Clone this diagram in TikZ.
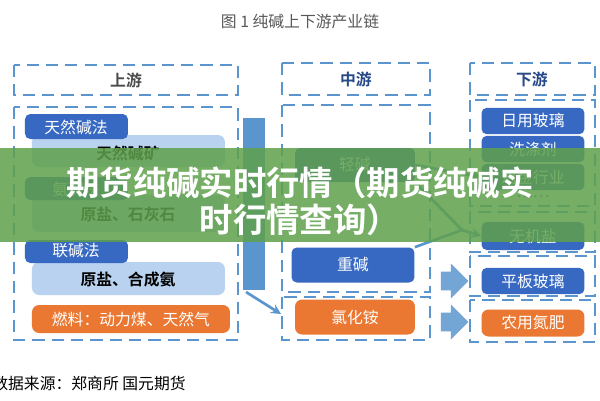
\documentclass[tikz,border=0pt]{standalone}
\usepackage{fontspec}
\newfontfamily\cjk{Noto Sans CJK SC}[BoldFont={Noto Sans CJK SC Bold}]
\usetikzlibrary{shapes.arrows}
\definecolor{dashblue}{RGB}{90,150,205}
\definecolor{tabblue}{RGB}{55,105,195}
\definecolor{paleblue}{RGB}{185,210,240}
\definecolor{fuelorange}{RGB}{235,120,50}
\definecolor{bandgreen}{RGB}{95,160,75}
\tikzset{
  dbox/.style={draw=dashblue, dashed, dash pattern=on 7pt off 4pt, line width=1.2pt},
  tab/.style={fill=tabblue, rounded corners=3pt, text=white, font=\cjk\small},
  pale/.style={fill=paleblue, rounded corners=4pt, font=\cjk\small\bfseries},
  fuel/.style={fill=fuelorange, rounded corners=4pt, text=white, font=\cjk\small},
  thinarr/.style={draw=dashblue, line width=1.5pt, -stealth},
}
\begin{document}
\begin{tikzpicture}[x=0.02cm, y=-0.02cm]
\useasboundingbox (0,0) rectangle (600,400);
\fill[white] (0,0) rectangle (600,400);
\node[font=\cjk\small, text=gray!70!black] (title) at (300,22) {图\ 1\ 纯碱上下游产业链};
% upstream
\draw[dbox] (14,65) rectangle (238,95);
\node[font=\cjk\small\bfseries, text=gray!60!black] (up) at (126,80) {上游};
\draw[dbox] (14,107) rectangle (238,340);
\fill[pale] (32,135) rectangle (225,167);
\node[font=\cjk\small\bfseries] (trona) at (128,153) {天然碱矿};
\fill[tab] (25,114) rectangle (128,139);
\node[font=\cjk\small, text=white] (natural) at (76,127) {天然碱法};
\fill[pale] (32,195) rectangle (225,232);
\node[font=\cjk\small\bfseries] (salt1) at (128,215) {原盐、石灰石};
\fill[tab] (25,177) rectangle (128,200);
\node[font=\cjk\small, text=white] (ammonia) at (76,189) {氨碱法};
\fill[pale] (32,262) rectangle (225,295);
\node[font=\cjk\small\bfseries] (salt2) at (128,280) {原盐、合成氨};
\fill[tab] (25,240) rectangle (128,263);
\node[font=\cjk\small, text=white] (joint) at (76,251) {联碱法};
\fill[fuel] (32,305) rectangle (230,333);
\node[font=\cjk\small, text=white] (fuel) at (131,319) {燃料：动力煤、天然气};
% vertical bar
\fill[dashblue] (243,118) rectangle (265,290);
\coordinate (barfoot) at (246,292);
\coordinate (midin) at (281,314);
\draw[thinarr] (barfoot) -- (midin);
% midstream
\draw[dbox] (282,63) rectangle (430,95);
\node[font=\cjk\small\bfseries, text=tabblue!70!black] (mid) at (356,79) {中游};
\draw[dbox] (282,105) rectangle (430,292);
\draw[dbox] (282,297) rectangle (430,340);
\node[tab, minimum width=2.4cm, minimum height=0.68cm] (light) at (355,165) {轻碱};
\node[tab, minimum width=2.46cm, minimum height=0.7cm] (heavy) at (353,265) {重碱};
\node[fuel, minimum width=2.4cm, minimum height=0.7cm] (nh4cl) at (355,317) {氯化铵};
% downstream
\draw[dbox] (470,63) rectangle (595,95);
\node[font=\cjk\small\bfseries, text=tabblue!70!black] (down) at (532,79) {下游};
\draw[dbox] (470,100) rectangle (595,206);
\node[tab, minimum width=2.06cm, minimum height=0.5cm] (glass) at (533,121) {日用玻璃};
\node[tab, minimum width=2.06cm, minimum height=0.5cm] (deterg) at (533,149) {洗涤剂};
\node[tab, minimum width=2.06cm, minimum height=0.5cm] (metal) at (533,177) {冶金行业};
\node[font=\cjk\small, text=tabblue] (dots) at (533,197) {……};
\draw[dbox] (470,212) rectangle (595,252);
\node[tab, minimum width=2.06cm, minimum height=0.56cm] (salt) at (533,236) {无机盐};
\draw[dbox] (470,256) rectangle (595,296);
\node[tab, minimum width=2.06cm, minimum height=0.5cm] (flat) at (533,281) {平板玻璃};
\draw[dbox] (470,300) rectangle (595,342);
\node[fuel, minimum width=2.06cm, minimum height=0.54cm] (fert) at (533,323) {农用氮肥};
% connectors
\coordinate (junct) at (462,230);
\draw[thinarr] (light.east) -- (metal.west);
\draw[dashblue, line width=1.5pt] (light.south east) -- (junct);
\draw[dashblue, line width=1.5pt] (heavy.north east) -- (junct);
\draw[thinarr] (junct) -- (salt.west);
\node[single arrow, fill=dashblue!85, minimum height=0.55cm, minimum width=0.7cm, single arrow head extend=3pt] (arrA) at (450,281) {};
\node[single arrow, fill=dashblue!85, minimum height=0.55cm, minimum width=0.7cm, single arrow head extend=3pt] (arrB) at (450,322) {};
% source
\node[font=\cjk\small, anchor=west, inner sep=0pt] (source) at (-8,383) {数据来源：郑商所\ 国元期货};
% overlay band
\fill[bandgreen, opacity=0.85] (0,148) rectangle (600,242);
\node[font=\cjk\fontsize{19}{22}\selectfont\bfseries, text=white] (head1) at (300,183) {期货纯碱实时行情（期货纯碱实};
\node[font=\cjk\fontsize{19}{22}\selectfont\bfseries, text=white] (head2) at (300,220) {时行情查询）};
\end{tikzpicture}
\end{document}
